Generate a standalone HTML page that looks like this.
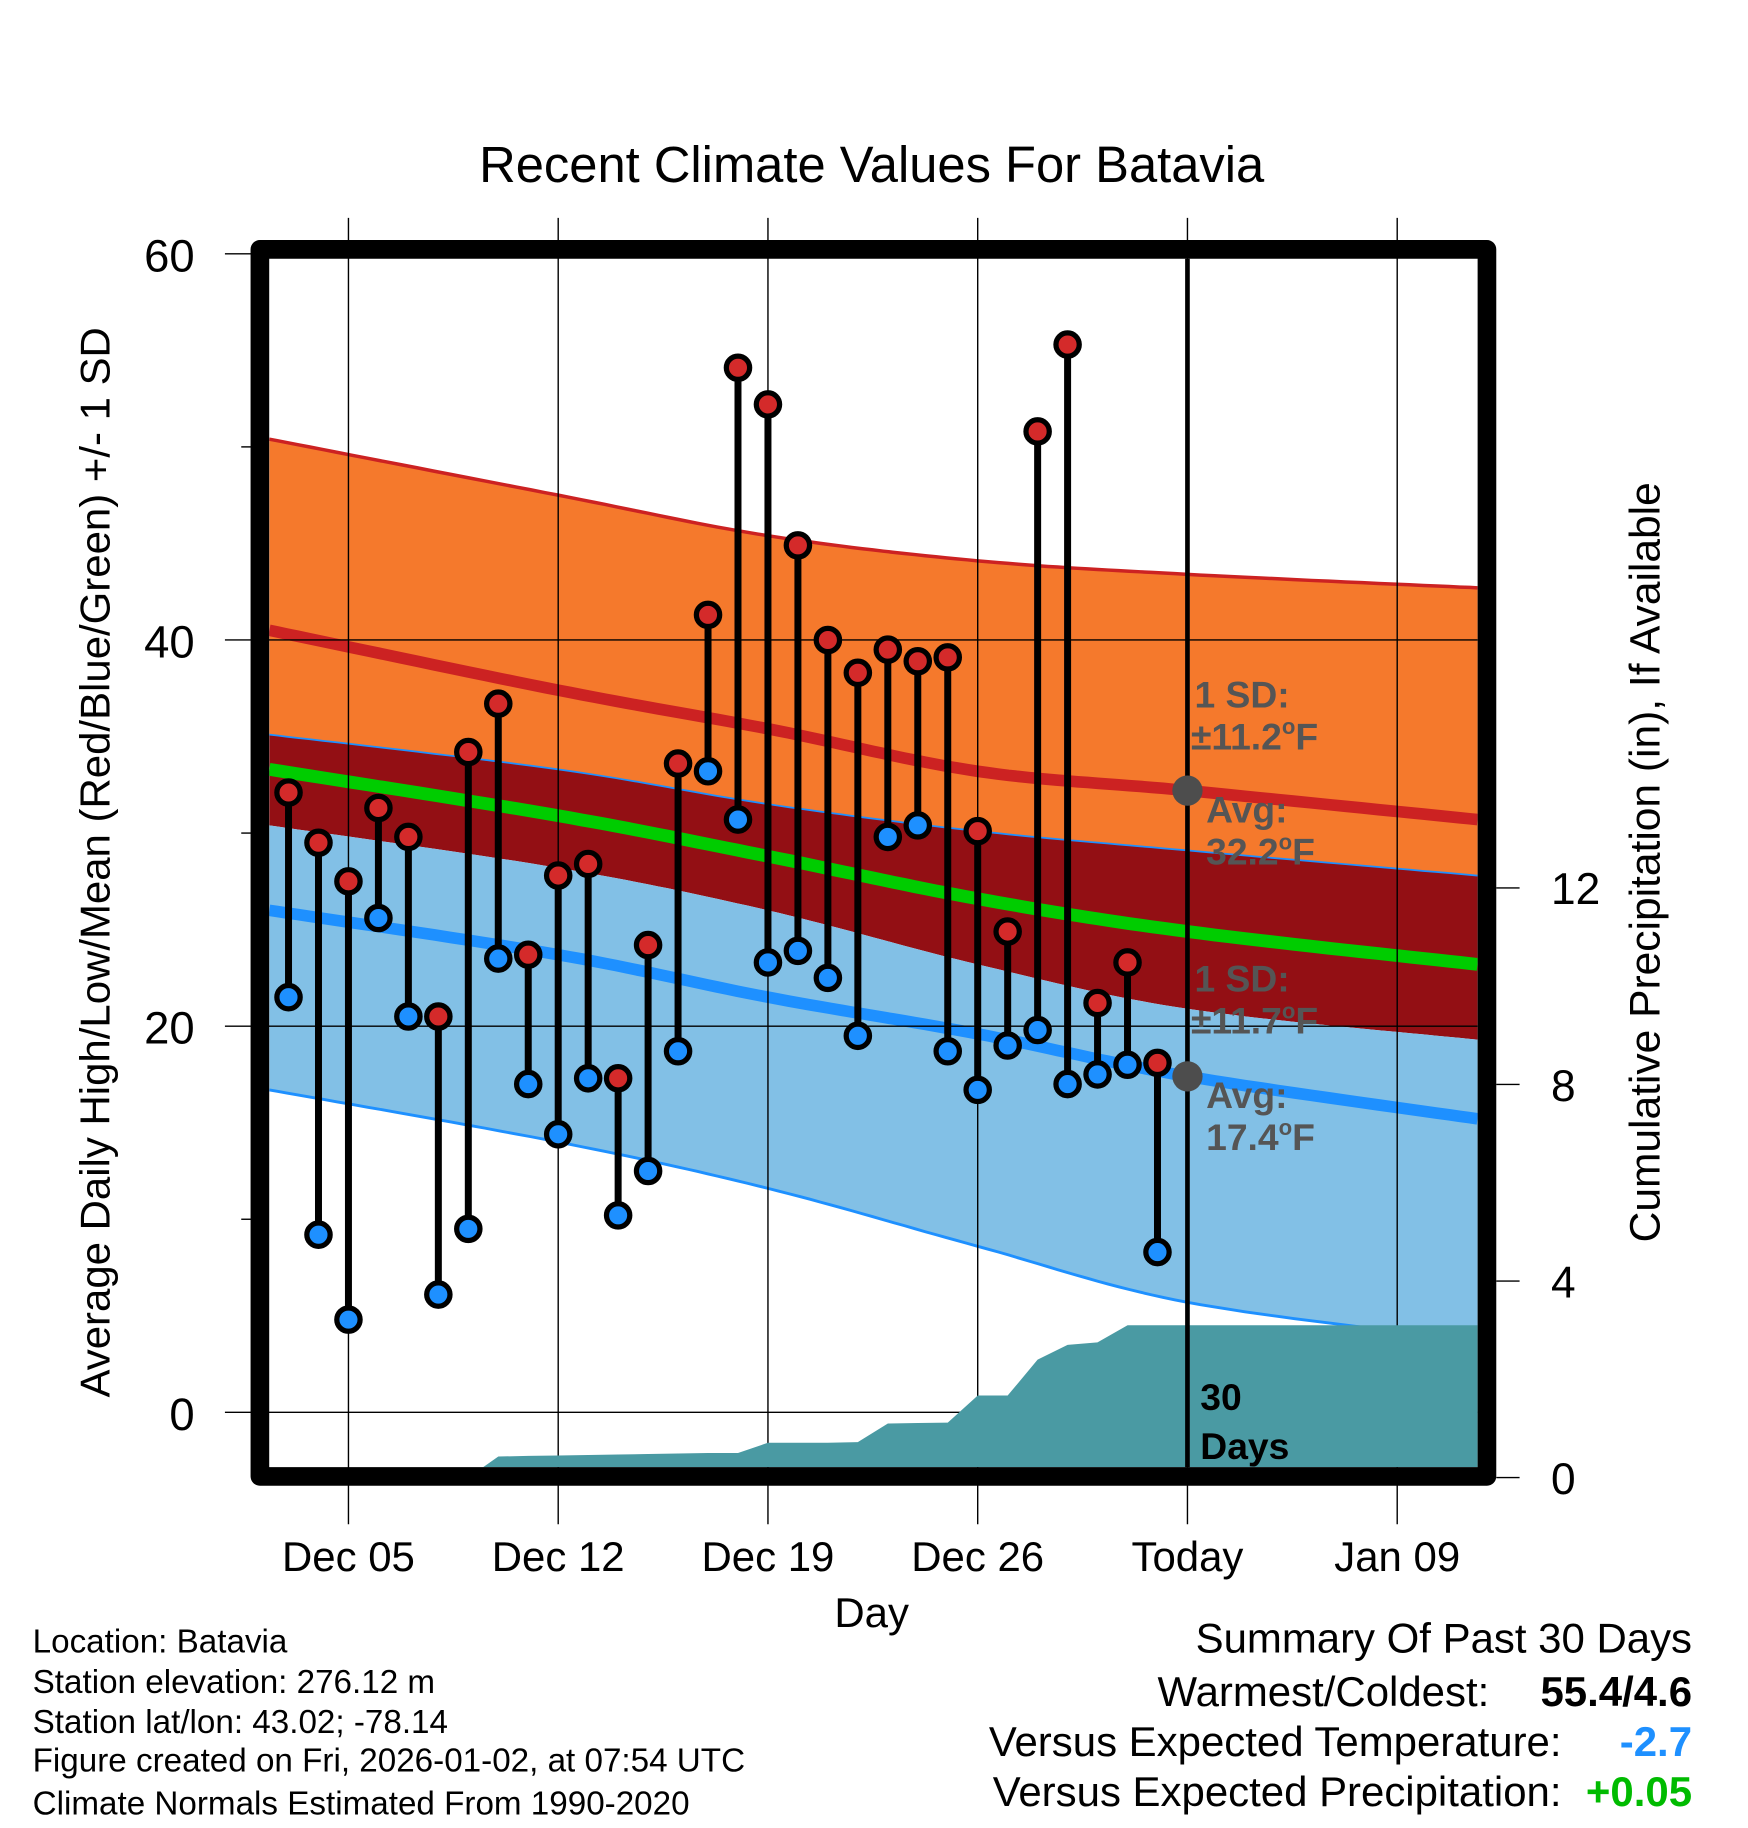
<!DOCTYPE html>
<html><head><meta charset="utf-8"><style>
html,body{margin:0;padding:0;background:#fff}
svg{display:block;font-family:"Liberation Sans",Arial,sans-serif}
</style></head><body>
<svg id="chart" width="1748" height="1828" viewBox="0 0 1500 1568.7" xmlns="http://www.w3.org/2000/svg">
<g id="bands"></g><g id="grid"></g><g id="precip"></g><g id="marks"></g><g id="frame"></g><g id="labels"></g>
</svg>
<script>
// ---- data ----
const obsDays = [-2,-1,0,1,2,3,4,5,6,7,8,9,10,11,12,13,14,15,16,17,18,19,20,21,22,23,24,25,26,27]; // days rel. Dec 05
const highs = [32.1,29.5,27.5,31.3,29.8,20.5,34.2,36.7,23.7,27.8,28.4,17.3,24.2,33.6,41.3,54.1,52.2,44.9,40.0,38.3,39.5,38.9,39.1,30.1,24.9,50.8,55.3,21.2,23.3,18.1];
const lows = [21.5,9.2,4.8,25.6,20.5,6.1,9.5,23.5,17.0,14.4,17.3,10.2,12.5,18.7,33.2,30.7,23.3,23.9,22.5,19.5,29.8,30.4,18.7,16.7,19.0,19.8,17.0,17.5,18.0,8.3];
const precipCum = [0,0,0,0,0,0,0,0.43,0.44,0.45,0.46,0.47,0.48,0.49,0.5,0.5,0.71,0.71,0.71,0.72,1.1,1.11,1.12,1.67,1.67,2.4,2.7,2.75,3.1,3.1];
const normDays = [-2.64,7,14,21,28,37.68];
const hiPlus = [50.4,47.5,45.4,44.1,43.4,42.7];
const hiAvg = [40.5,37.4,35.4,33.2,32.2,30.7];
const hiMinus = [35.1,33.3,31.5,30.1,29.1,27.8];
const meanAvg = [33.3,30.9,28.8,26.6,24.9,23.2];
const loPlus = [30.4,28.2,26.0,23.2,20.9,19.3];
const loAvg = [26.0,23.7,21.5,19.6,17.4,15.2];
const loMinus = [16.7,14.0,11.6,8.6,5.7,3.7];
const tempTicks = [0,20,40,60];
const minorTicks = [10,30,50];
const precipTicks = [0,4,8,12];
const xTickDays = [0,7,14,21,28,35];
const xTickLabels = ["Dec 05","Dec 12","Dec 19","Dec 26","Today","Jan 09"];
const todayDay = 28;
const todayHi = 32.2, todayLo = 17.4;

// ---- axes ----
const L=231,R=1268,T=222,B=1259;
const xS = d => 299 + 25.714*d;
const yT = t => 1212 - 16.57*t;
const yP = p => 1268 - 42.17*p;
const NS="http://www.w3.org/2000/svg";
function mk(tag, attrs, parent){const e=document.createElementNS(NS,tag);for(const k in attrs)e.setAttribute(k,attrs[k]);if(parent)parent.appendChild(e);return e;}
const gB=document.getElementById('bands'),gG=document.getElementById('grid'),gP=document.getElementById('precip'),gM=document.getElementById('marks'),gF=document.getElementById('frame');

const defs=mk('defs',{},document.getElementById('chart'));
const cp=mk('clipPath',{id:'plotclip'},defs);mk('rect',{x:L,y:T,width:R-L,height:B-T},cp);
gB.setAttribute('clip-path','url(#plotclip)');gP.setAttribute('clip-path','url(#plotclip)');

// smooth curve sampled densely (monotone-ish cubic through nodes)
function sample(arr){const P=normDays.map((d,i)=>[xS(d),yT(arr[i])]);const out=[];
for(let i=0;i<P.length-1;i++){const p0=P[Math.max(0,i-1)],p1=P[i],p2=P[i+1],p3=P[Math.min(P.length-1,i+2)];
for(let s=0;s<20;s++){const t=s/20,t2=t*t,t3=t2*t;
const f=(a,b,c,d)=>0.5*((2*b)+(-a+c)*t+(2*a-5*b+4*c-d)*t2+(-a+3*b-3*c+d)*t3);
out.push([f(p0[0],p1[0],p2[0],p3[0]),f(p0[1],p1[1],p2[1],p3[1])]);}}
out.push(P[P.length-1]);return out;}
const fmt=a=>a.map(q=>q[0].toFixed(1)+','+q[1].toFixed(1));
function band(top,bot,color,name){const p=mk('polygon',{points:fmt(sample(top)).concat(fmt(sample(bot)).reverse()).join(' '),fill:color},gB);

}
function line(arr,color,w,name){const p=mk('polyline',{points:fmt(sample(arr)).join(' '),fill:'none',stroke:color,'stroke-width':w},gB);

}
band(hiPlus,hiMinus,'#f5792c','high-sd-band');
band(hiMinus,loPlus,'#930f14','overlap-band');
band(loPlus,loMinus,'#82c0e6','low-sd-band');
line(hiPlus,'#cc2222',3,'high-plus-sd-line');
line(hiAvg,'#cc2222',10,'normal-high-line');
line(hiMinus,'#1e90ff',1.5,'high-minus-sd-line');
line(meanAvg,'#00cc00',11,'normal-mean-line');
line(loAvg,'#1e90ff',10,'normal-low-line');
line(loMinus,'#1e90ff',2.5,'low-minus-sd-line');

// precip
{let p=[[L,yP(0)]];
obsDays.forEach((d,i)=>p.push([xS(d),yP(precipCum[i])]));
p.push([R,yP(precipCum[precipCum.length-1])]);p.push([R,yP(0)+5]);p.push([L,yP(0)+5]);
const poly=mk('polygon',{points:fmt(p).join(' '),fill:'#4a9aa3'},gP);

}

// grid
const gL=document.getElementById('labels');
tempTicks.forEach(t=>{const l=mk('line',{x1:193,x2:R,y1:yT(t),y2:yT(t),stroke:'#000','stroke-width':1.2},gG);


const tx=mk('text',{x:167,y:yT(t)+15,'font-size':39,'text-anchor':'end'},gL);tx.textContent=t;

});
minorTicks.forEach(t=>{mk('line',{x1:207,x2:220,y1:yT(t),y2:yT(t),stroke:'#000','stroke-width':1.2},gG);});
xTickDays.forEach((d,i)=>{const l=mk('line',{x1:xS(d),x2:xS(d),y1:187,y2:1308,stroke:'#000','stroke-width':1.2},gG);


const tx=mk('text',{x:xS(d),y:1348,'font-size':36,'text-anchor':'middle'},gL);tx.textContent=xTickLabels[i];

});
precipTicks.forEach(p=>{mk('line',{x1:1284,x2:1304,y1:yP(p),y2:yP(p),stroke:'#000','stroke-width':1.2},gG);
const tx=mk('text',{x:1331,y:yP(p)+14,'font-size':38},gL);tx.textContent=p;

});

// stems and markers
obsDays.forEach((d,i)=>{const x=xS(d);
const s=mk('line',{x1:x,x2:x,y1:yT(highs[i]),y2:yT(lows[i]),stroke:'#000','stroke-width':6},gM);

});
obsDays.forEach((d,i)=>{const x=xS(d);
const h=mk('circle',{cx:x,cy:yT(highs[i]),r:10,fill:'#d42a2a',stroke:'#000','stroke-width':4.5},gM);


const lo=mk('circle',{cx:x,cy:yT(lows[i]),r:10,fill:'#1e90ff',stroke:'#000','stroke-width':4.5},gM);

});
{const tl=mk('line',{x1:xS(todayDay),x2:xS(todayDay),y1:T,y2:B,stroke:'#000','stroke-width':4},gM);


const c1=mk('circle',{cx:xS(todayDay),cy:yT(todayHi),r:13,fill:'#4d4d4d'},gM);


const c2=mk('circle',{cx:xS(todayDay),cy:yT(todayLo),r:13,fill:'#4d4d4d'},gM);

}
{const f=mk('rect',{x:223,y:214,width:1053,height:1053,fill:'none',stroke:'#000','stroke-width':16,'stroke-linejoin':'round'},gF);

}
</script>
<svg style="position:absolute;left:0;top:0" width="1748" height="1828" viewBox="0 0 1500 1568.7" xmlns="http://www.w3.org/2000/svg" font-family="Liberation Sans, Arial, sans-serif">
<text x="748" y="156" font-size="43.5" text-anchor="middle">Recent Climate Values For Batavia</text>
<text transform="translate(94,740) rotate(-90)" font-size="36" text-anchor="middle">Average Daily High/Low/Mean (Red/Blue/Green) +/- 1 SD</text>
<text transform="translate(1424,740) rotate(-90)" font-size="36.5" text-anchor="middle">Cumulative Precipitation (in), If Available</text>
<text x="748" y="1396" font-size="36" text-anchor="middle">Day</text>
<g font-weight="bold" font-size="32" fill="#555">
<text x="1025" y="607">1 SD:</text>
<text x="1022" y="643">±11.2<tspan font-size="19" dy="-13">o</tspan><tspan dy="13">F</tspan></text>
<text x="1035" y="706">Avg:</text>
<text x="1035" y="742">32.2<tspan font-size="19" dy="-13">o</tspan><tspan dy="13">F</tspan></text>
<text x="1025" y="851">1 SD:</text>
<text x="1022" y="887">±11.7<tspan font-size="19" dy="-13">o</tspan><tspan dy="13">F</tspan></text>
<text x="1035" y="951">Avg:</text>
<text x="1035" y="987">17.4<tspan font-size="19" dy="-13">o</tspan><tspan dy="13">F</tspan></text>
</g>
<g font-weight="bold" font-size="32" fill="#000">
<text x="1030" y="1210">30</text>
<text x="1030" y="1252">Days</text>
</g>
<g font-size="28.5" fill="#000">
<text x="28" y="1418">Location: Batavia</text>
<text x="28" y="1453">Station elevation: 276.12 m</text>
<text x="28" y="1487">Station lat/lon: 43.02; -78.14</text>
<text x="28" y="1520">Figure created on Fri, 2026-01-02, at 07:54 UTC</text>
<text x="28" y="1557">Climate Normals Estimated From 1990-2020</text>
</g>
<g font-size="36" fill="#000">
<text x="1452" y="1418" text-anchor="end">Summary Of Past 30 Days</text>
<text x="1278" y="1464" text-anchor="end">Warmest/Coldest:</text>
<text x="1452" y="1464" text-anchor="end" font-weight="bold">55.4/4.6</text>
<text x="1340" y="1507" text-anchor="end">Versus Expected Temperature:</text>
<text x="1452" y="1507" text-anchor="end" font-weight="bold" fill="#1e90ff">-2.7</text>
<text x="1340" y="1550" text-anchor="end">Versus Expected Precipitation:</text>
<text x="1452" y="1550" text-anchor="end" font-weight="bold" fill="#00bb00">+0.05</text>
</g>
</svg>
</body></html>
